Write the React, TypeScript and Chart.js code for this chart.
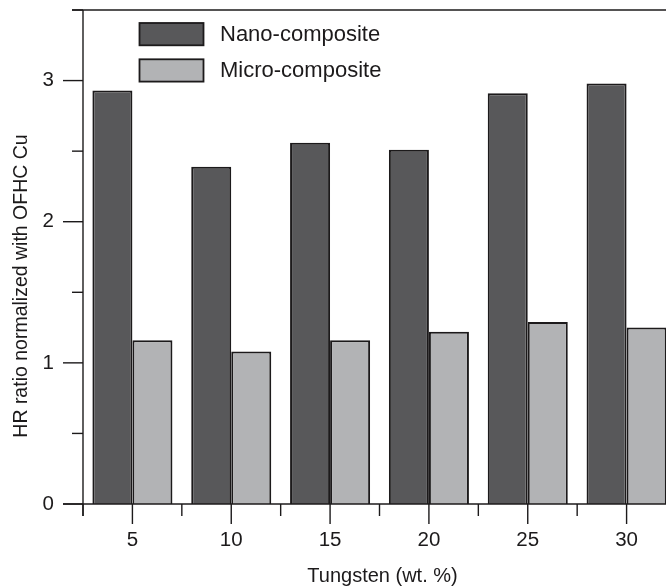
import React, { useEffect, useRef } from 'react';
import { Chart, registerables } from 'chart.js';

Chart.register(...registerables);

// Tungsten content of each sample (wt. %)
const CATEGORIES = ['5', '10', '15', '20', '25', '30'];
// Hardness ratio relative to OFHC copper
const NANO_VALUES = [2.93, 2.39, 2.56, 2.51, 2.91, 2.98];
const MICRO_VALUES = [1.16, 1.08, 1.16, 1.22, 1.29, 1.25];
const SERIES_LABELS = ['Nano-composite', 'Micro-composite'];
const Y_MAJOR_TICKS = [0, 1, 2, 3];
const Y_MINOR_TICKS = [0.5, 1.5, 2.5, 3.5];
const X_TITLE = 'Tungsten (wt. %)';
const Y_TITLE = 'HR ratio normalized with OFHC Cu';

const INK = '#1c1a1b';
const NANO_FILL = '#58585a';
const MICRO_FILL = '#b2b3b5';
const FONT_FAMILY = '"Liberation Sans", Arial, Helvetica, sans-serif';

// Axis lines, tick marks (major/minor), legend and axis titles
const framePlugin = {
  id: 'frameAxes',
  afterDatasetsDraw(chart: any) {
    const { ctx, chartArea, scales } = chart;
    const { left, right, top, bottom } = chartArea;
    const xs = scales.x;
    const ys = scales.y;
    ctx.save();
    ctx.strokeStyle = INK;
    ctx.lineWidth = 1.4;
    ctx.lineCap = 'butt';
    const line = (x1: number, y1: number, x2: number, y2: number) => {
      ctx.beginPath();
      ctx.moveTo(x1, y1);
      ctx.lineTo(x2, y2);
      ctx.stroke();
    };

    // frame lines
    line(left, top, left, bottom + 12);
    line(left - 20, bottom, chart.width, bottom);
    line(left - 11, top, chart.width, top);

    // y ticks
    Y_MAJOR_TICKS.forEach((v) => {
      const py = ys.getPixelForValue(v);
      line(left - 20, py, left, py);
    });
    Y_MINOR_TICKS.forEach((v) => {
      const py = ys.getPixelForValue(v);
      line(left - 11, py, left, py);
    });

    // x ticks: major at each category, minor at category boundaries
    const step = xs.getPixelForValue(1) - xs.getPixelForValue(0);
    CATEGORIES.forEach((_, i) => {
      const px = xs.getPixelForValue(i);
      line(px, bottom, px, bottom + 20);
      line(px - step / 2, bottom, px - step / 2, bottom + 12);
    });
    const lastPx = xs.getPixelForValue(CATEGORIES.length - 1) + step / 2;
    line(lastPx, bottom, lastPx, bottom + 12);

    // legend
    const fills = [NANO_FILL, MICRO_FILL];
    ctx.font = `22px ${FONT_FAMILY}`;
    ctx.textAlign = 'left';
    ctx.textBaseline = 'middle';
    SERIES_LABELS.forEach((label, i) => {
      const bx = left + 56.5;
      const by = top + 13 + i * 36.3;
      ctx.fillStyle = fills[i];
      ctx.fillRect(bx, by, 64, 22.3);
      ctx.lineWidth = 1.8;
      ctx.strokeRect(bx, by, 64, 22.3);
      ctx.fillStyle = INK;
      ctx.fillText(label, left + 137, by + 12);
    });

    // axis titles
    ctx.fillStyle = INK;
    ctx.font = `19.5px ${FONT_FAMILY}`;
    ctx.textAlign = 'center';
    ctx.textBaseline = 'middle';
    ctx.save();
    ctx.translate(21.5, 286);
    ctx.rotate(-Math.PI / 2);
    ctx.fillText(Y_TITLE, 0, 0);
    ctx.restore();

    ctx.font = `20px ${FONT_FAMILY}`;
    ctx.fillText(X_TITLE, (left + right) / 2 + 3, 576);
    ctx.restore();
  },
};

export default function App() {
  const canvasRef = useRef<HTMLCanvasElement | null>(null);

  useEffect(() => {
    const canvas = canvasRef.current;
    if (!canvas) return;
    const chart = new Chart(canvas, {
      type: 'bar',
      data: {
        labels: CATEGORIES,
        datasets: [
          {
            label: SERIES_LABELS[0],
            data: NANO_VALUES,
            backgroundColor: NANO_FILL,
            borderColor: INK,
            borderWidth: 2,
          },
          {
            label: SERIES_LABELS[1],
            data: MICRO_VALUES,
            backgroundColor: MICRO_FILL,
            borderColor: INK,
            borderWidth: 2,
          },
        ],
      },
      options: {
        responsive: false,
        animation: false,
        devicePixelRatio: 1,
        layout: { padding: { top: 10, left: 0, right: 0, bottom: 0 } },
        datasets: {
          bar: { categoryPercentage: 0.81, barPercentage: 1.0 },
        },
        plugins: {
          legend: { display: false },
          tooltip: { enabled: false },
          title: { display: false },
        },
        scales: {
          x: {
            type: 'category',
            offset: true,
            grid: { display: false, drawTicks: false },
            border: { display: false },
            ticks: {
              color: INK,
              padding: 24,
              maxRotation: 0,
              autoSkip: false,
              font: { family: FONT_FAMILY, size: 20.5 },
            },
            afterFit: (scale: any) => {
              scale.height = 84;
              scale.paddingLeft = 0;
              scale.paddingRight = 0;
              scale.paddingTop = 0;
              scale.paddingBottom = 0;
            },
          },
          y: {
            type: 'linear',
            min: 0,
            max: 3.5,
            grid: { display: false, drawTicks: false },
            border: { display: false },
            afterBuildTicks: (scale: any) => {
              scale.ticks = Y_MAJOR_TICKS.map((v) => ({ value: v }));
            },
            ticks: {
              color: INK,
              padding: 29,
              font: { family: FONT_FAMILY, size: 20.5 },
              callback: (v: any) => String(v),
            },
            afterFit: (scale: any) => {
              scale.width = 83;
              scale.paddingLeft = 0;
              scale.paddingRight = 0;
              scale.paddingTop = 0;
              scale.paddingBottom = 0;
            },
          },
        },
      },
      plugins: [framePlugin],
    });
    return () => chart.destroy();
  }, []);

  return (
    <div
      style={{
        position: 'fixed',
        left: 0,
        top: 0,
        width: 666,
        height: 588,
        overflow: 'hidden',
        background: '#ffffff',
      }}
    >
      <canvas ref={canvasRef} width={676} height={588} style={{ display: 'block' }} />
    </div>
  );
}
